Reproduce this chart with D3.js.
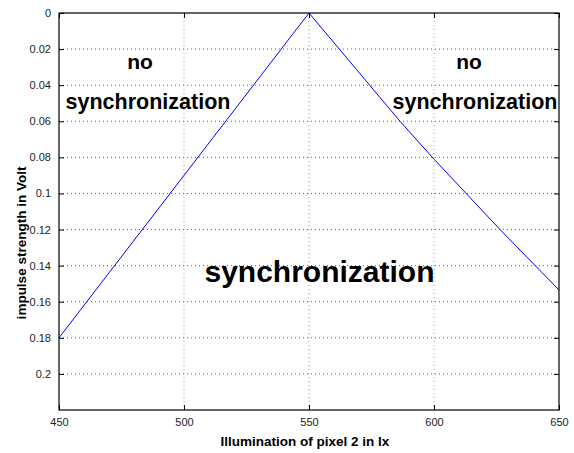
<!DOCTYPE html>
<html><head><meta charset="utf-8">
<script src="https://cdn.jsdelivr.net/npm/d3@7"></script>
<style>body{margin:0;background:#fff;} svg{display:block;font-family:"Liberation Sans",Arial,sans-serif;}</style>
</head><body>
<svg id="c" width="574" height="453"></svg>
<script>
const illumination = [450, 550, 586.4, 600, 626.4, 650];
const strength = [0.18, 0, 0.06, 0.081, 0.12, 0.1535];
const xTicks = [450, 500, 550, 600, 650];
const yTicks = [0, 0.02, 0.04, 0.06, 0.08, 0.1, 0.12, 0.14, 0.16, 0.18, 0.2];
const xLabel = "Illumination of pixel 2 in lx";
const yLabel = "impulse strength in Volt";

const svg = d3.select("#c");
const L = 59, R = 559, T = 13, B = 410;
const x = d3.scaleLinear().domain([450, 650]).range([L, R]);
const y = d3.scaleLinear().domain([0, 0.22]).range([T, B]);

// grid
const g = svg.append("g");
g.selectAll(".gx").data(xTicks.slice(1, -1)).enter().append("line")
  .attr("x1", d => x(d)).attr("x2", d => x(d)).attr("y1", T).attr("y2", B)
  .attr("stroke", "#999").attr("stroke-dasharray", "1,3");
g.selectAll(".gy").data(yTicks.slice(1)).enter().append("line")
  .attr("x1", L).attr("x2", R).attr("y1", d => y(d)).attr("y2", d => y(d))
  .attr("stroke", "#666").attr("stroke-dasharray", "1,3");

// data line
const data = illumination.map((v, i) => [v, strength[i]]);
svg.append("path").datum(data)
  .attr("d", d3.line().x(d => x(d[0])).y(d => y(d[1])))
  .attr("fill", "none").attr("stroke", "#0000ff").attr("stroke-width", 1);

// axes
const fmt = d => d === 0 ? "0" : String(+d.toFixed(2));
svg.append("g").attr("transform", `translate(0,${B})`)
  .call(d3.axisBottom(x).tickValues(xTicks).tickSize(-5).tickPadding(8).tickFormat(d3.format("d")));
svg.append("g").attr("transform", `translate(0,${T})`)
  .call(d3.axisTop(x).tickValues(xTicks).tickSize(-5).tickFormat(""));
svg.append("g").attr("transform", `translate(${L},0)`)
  .call(d3.axisLeft(y).tickValues(yTicks).tickSize(-5).tickPadding(8).tickFormat(fmt));
svg.append("g").attr("transform", `translate(${R},0)`)
  .call(d3.axisRight(y).tickValues(yTicks).tickSize(-5).tickFormat(""));
svg.selectAll(".domain").remove();
svg.selectAll(".tick line").attr("stroke", "#000");
svg.selectAll(".tick text").attr("font-size", 11).attr("fill", "#222")
  .attr("font-family", "Liberation Sans, Arial, sans-serif");

svg.append("rect").attr("x", L).attr("y", T).attr("width", R - L).attr("height", B - T)
  .attr("fill", "none").attr("stroke", "#000").attr("stroke-width", 1.2);

// labels
svg.append("text").attr("x", 305).attr("y", 446).attr("text-anchor", "middle")
  .attr("font-size", 13.5).attr("font-weight", "bold").text(xLabel);
svg.append("text").attr("transform", `translate(26,243) rotate(-90)`)
  .attr("text-anchor", "middle").attr("font-size", 13.5).attr("font-weight", "bold").text(yLabel);

// annotations
const ann = [
  {t: "no", x: 140, y: 69, s: 21},
  {t: "synchronization", x: 148, y: 109, s: 21.5},
  {t: "no", x: 469, y: 69, s: 21},
  {t: "synchronization", x: 475, y: 109, s: 21.5},
  {t: "synchronization", x: 319.5, y: 282, s: 30}
];
svg.selectAll(".ann").data(ann).enter().append("text")
  .attr("x", d => d.x).attr("y", d => d.y).attr("text-anchor", "middle")
  .attr("font-size", d => d.s).attr("font-weight", "bold").attr("fill", "#000").text(d => d.t);
</script>
</body></html>
